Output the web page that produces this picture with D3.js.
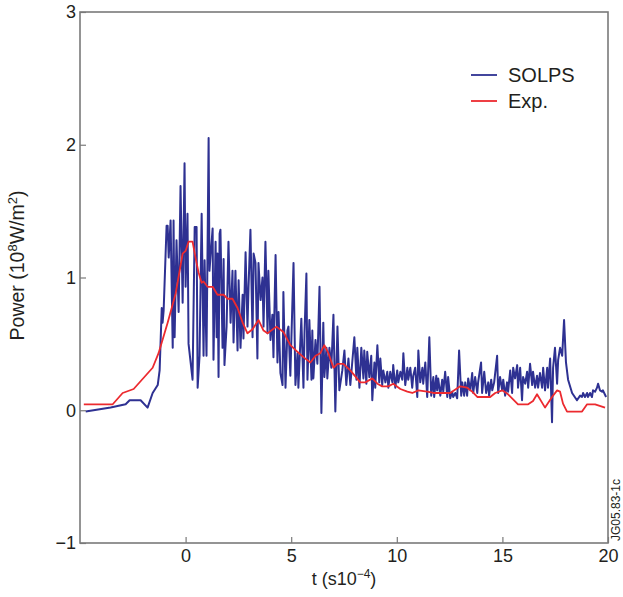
<!DOCTYPE html>
<html>
<head>
<meta charset="utf-8">
<script src="https://cdn.jsdelivr.net/npm/d3@7"></script>
<style>
  body { margin: 0; background: #fff; }
  text { font-family: "Liberation Sans", Arial, sans-serif; fill: #231f20; }
</style>
</head>
<body>
<div id="chart"></div>
<script>
// SOLPS simulation, [t (1e-4 s), power (1e8 W/m2)]
const solps = [
  [-4.73,-0.01],[-3.55,0.02],[-2.84,0.045],[-2.65,0.075],[-2.13,0.075],[-1.80,0.02],[-1.56,0.13],[-1.32,0.19],
  [-1.23,0.30],[-1.13,0.77],[-1.09,0.66],[-1.04,0.75],[-0.90,1.39],[-0.85,1.39],[-0.80,1.15],[-0.71,1.43],
  [-0.61,0.47],[-0.57,1.43],[-0.52,0.55],[-0.43,1.28],[-0.33,0.74],[-0.24,1.69],[-0.14,0.81],[-0.05,1.86],
  [0,0.93],[0.09,1.48],[0.14,0.50],[0.33,0.23],[0.43,1.38],[0.52,1.38],[0.57,0.17],[0.66,0.41],
  [0.76,1.48],[0.85,0.41],[0.90,1.13],[0.99,0.41],[1.09,2.05],[1.13,1.05],[1.28,1.37],[1.32,0.38],
  [1.42,1.27],[1.47,0.55],[1.51,1.18],[1.56,0.25],[1.61,1.33],[1.65,1.36],[1.75,0.47],[1.80,1.14],
  [1.84,0.34],[1.94,0.63],[2.03,1.27],[2.13,0.66],[2.22,1.05],[2.27,0.51],[2.36,1.05],[2.46,0.45],
  [2.51,0.98],[2.60,0.47],[2.70,0.87],[2.74,0.54],[2.84,1.19],[2.93,0.63],[2.98,0.93],[3.07,1.36],
  [3.17,0.55],[3.22,1.18],[3.31,1.11],[3.40,0.39],[3.45,1.11],[3.55,0.83],[3.64,1.00],[3.69,0.63],
  [3.78,1.27],[3.88,0.58],[3.92,1.05],[4.02,0.53],[4.11,0.72],[4.16,0.40],[4.26,1.17],[4.35,0.36],
  [4.40,0.74],[4.49,0.28],[4.59,0.19],[4.63,0.89],[4.73,0.17],[4.82,0.60],[4.87,0.63],[4.96,0.26],
  [5.11,1.11],[5.20,0.19],[5.30,0.43],[5.34,0.17],[5.48,0.69],[5.58,0.17],[5.63,0.58],[5.72,1.03],
  [5.77,0.23],[5.86,0.68],[5.96,0.23],[6.00,0.60],[6.05,0.24],[6.15,0.53],[6.24,0.35],[6.34,0.93],
  [6.43,-0.02],[6.52,0.66],[6.57,0.25],[6.67,0.47],[6.71,0.24],[6.81,0.47],[6.90,0.32],[7.00,0.72],
  [7.09,-0.01],[7.19,0.63],[7.28,0.15],[7.42,0.30],[7.52,0.45],[7.61,0.19],[7.71,0.39],[7.80,0.19],
  [7.99,0.55],[8.09,0.23],[8.13,0.47],[8.23,0.17],[8.32,0.47],[8.42,0.24],[8.46,0.45],[8.56,0.20],
  [8.60,0.44],[8.70,0.25],[8.79,0.41],[8.84,0.075],[8.94,0.36],[8.98,0.17],[9.08,0.49],[9.17,0.21],
  [9.22,0.39],[9.31,0.19],[9.36,0.30],[9.46,0.21],[9.55,0.29],[9.60,0.17],[9.69,0.29],[9.79,0.21],
  [9.83,0.34],[9.93,0.17],[10.02,0.30],[10.07,0.21],[10.17,0.29],[10.26,0.23],[10.31,0.43],[10.40,0.19],
  [10.50,0.32],[10.54,0.23],[10.64,0.32],[10.73,0.17],[10.78,0.26],[10.87,0.32],[10.97,0.10],[11.02,0.45],
  [11.11,0.21],[11.21,0.32],[11.25,0.20],[11.35,0.36],[11.44,0.10],[11.54,0.55],[11.63,0.11],[11.73,0.25],
  [11.77,0.10],[11.87,0.26],[11.91,0.15],[11.96,0.24],[12.06,0.11],[12.15,0.23],[12.20,0.14],[12.29,0.29],
  [12.39,0.10],[12.43,0.25],[12.53,0.09],[12.62,0.14],[12.67,0.10],[12.77,0.13],[12.86,0.09],[12.95,0.45],
  [13.05,0.11],[13.10,0.21],[13.19,0.11],[13.24,0.21],[13.33,0.11],[13.38,0.24],[13.48,0.15],[13.57,0.28],
  [13.62,0.13],[13.71,0.25],[13.81,0.13],[13.85,0.21],[13.99,0.36],[14.04,0.13],[14.14,0.29],[14.23,0.13],
  [14.33,0.21],[14.37,0.11],[14.47,0.23],[14.52,0.15],[14.61,0.21],[14.75,0.41],[14.80,0.13],[14.89,0.25],
  [14.99,0.15],[15.04,0.23],[15.13,0.11],[15.22,0.21],[15.27,0.14],[15.37,0.30],[15.46,0.13],[15.51,0.32],
  [15.60,0.24],[15.70,0.34],[15.74,0.17],[15.84,0.32],[15.93,0.075],[15.98,0.25],[16.08,0.20],[16.17,0.29],
  [16.22,0.17],[16.31,0.35],[16.41,0.19],[16.45,0.29],[16.55,0.17],[16.64,0.26],[16.69,0.17],[16.78,0.28],
  [16.88,0.17],[16.93,0.32],[17.02,0.15],[17.12,0.32],[17.16,0.17],[17.26,0.39],[17.35,-0.09],[17.40,0.32],
  [17.49,0.47],[17.59,0.20],[17.64,0.38],[17.73,0.47],[17.83,0.41],[17.87,0.53],[17.92,0.68],[18.01,0.36],
  [18.11,0.23],[18.30,0.13],[18.53,0.075],[18.68,0.11],[18.77,0.10],[18.82,0.13],[18.91,0.10],[19.01,0.13],
  [19.05,0.10],[19.15,0.13],[19.24,0.10],[19.29,0.15],[19.39,0.14],[19.48,0.17],[19.53,0.20],[19.62,0.15],
  [19.72,0.14],[19.76,0.15],[19.91,0.10]
];

// experiment
const expData = [
  [-4.82,0.045],[-3.45,0.045],[-2.98,0.13],[-2.46,0.16],[-1.56,0.32],[-1.28,0.43],[-0.85,0.66],[-0.47,0.88],
  [-0.14,1.18],[0,1.20],[0.14,1.27],[0.33,1.27],[0.47,1.15],[0.61,1.04],[0.76,0.96],[0.85,0.97],
  [1.04,0.93],[1.28,0.93],[1.51,0.87],[1.80,0.87],[1.99,0.84],[2.22,0.84],[2.46,0.77],[2.70,0.66],
  [2.93,0.58],[3.17,0.61],[3.45,0.68],[3.69,0.60],[3.88,0.58],[4.30,0.63],[4.63,0.59],[4.96,0.49],
  [5.30,0.44],[5.58,0.40],[5.91,0.36],[6.15,0.41],[6.38,0.43],[6.57,0.49],[6.76,0.43],[7.00,0.32],
  [7.19,0.35],[7.47,0.35],[7.80,0.30],[8.27,0.21],[8.51,0.21],[8.84,0.24],[9.08,0.20],[9.31,0.18],
  [9.60,0.18],[9.83,0.20],[10.17,0.16],[10.50,0.14],[10.73,0.13],[11.02,0.15],[11.44,0.14],[11.73,0.13],
  [12.53,0.13],[13.00,0.18],[13.33,0.17],[13.57,0.14],[13.81,0.10],[14.42,0.10],[14.66,0.13],[14.99,0.15],
  [15.27,0.12],[15.74,0.045],[16.22,0.045],[16.45,0.07],[16.64,0.12],[17.02,0.02],[17.35,0.10],[17.59,0.15],
  [17.73,0.14],[17.87,0.05],[18.06,-0.01],[18.77,-0.01],[19.01,0.045],[19.39,0.045],[19.86,0.02]
];

const xTicks = [0, 5, 10, 15, 20];
const yTicks = [-1, 0, 1, 2, 3];
const legendItems = [
  { name: 'SOLPS', color: '#2e3192' },
  { name: 'Exp.', color: '#ec2a2f' }
];

const W = 623, H = 597;
const margin = { top: 12, right: 15, bottom: 54, left: 80 };
const width = W - margin.left - margin.right;
const height = H - margin.top - margin.bottom;

const svg = d3.select('#chart')
  .append('svg')
  .attr('width', W)
  .attr('height', H);

const g = svg.append('g')
  .attr('transform', `translate(${margin.left},${margin.top})`);

const xScale = d3.scaleLinear().domain([-5, 20]).range([0, width]);
const yScale = d3.scaleLinear().domain([-1, 3]).range([height, 0]);

const line = d3.line()
  .x(d => xScale(d[0]))
  .y(d => yScale(d[1]));

g.append('path')
  .datum(solps)
  .attr('fill', 'none')
  .attr('stroke', legendItems[0].color)
  .attr('stroke-width', 2)
  .attr('stroke-linejoin', 'round')
  .attr('d', line);

g.append('path')
  .datum(expData)
  .attr('fill', 'none')
  .attr('stroke', legendItems[1].color)
  .attr('stroke-width', 1.8)
  .attr('stroke-linejoin', 'round')
  .attr('d', line);

// axes, ticks point inward
const xAxis = d3.axisBottom(xScale).tickValues(xTicks).tickSize(-6).tickPadding(6).tickFormat(d3.format('d'));
const yAxis = d3.axisLeft(yScale).tickValues(yTicks).tickSize(-6).tickPadding(4).tickFormat(d3.format('d'));

const gx = g.append('g').attr('transform', `translate(0,${height})`).call(xAxis);
const gy = g.append('g').call(yAxis);

[gx, gy].forEach(a => {
  a.select('.domain').remove();
  a.selectAll('line').attr('stroke', '#7a7a7a').attr('stroke-width', 1.2);
  a.selectAll('text').style('font-size', '18px').attr('fill', '#231f20');
});

// frame
g.append('rect')
  .attr('width', width)
  .attr('height', height)
  .attr('fill', 'none')
  .attr('stroke', '#7a7a7a')
  .attr('stroke-width', 1.6);

// axis titles
const xt = svg.append('text')
  .attr('x', margin.left + width / 2)
  .attr('y', 585)
  .attr('text-anchor', 'middle')
  .style('font-size', '18px');
xt.append('tspan').text('t (s10');
xt.append('tspan').attr('dy', -7).style('font-size', '12px').text('\u22124');
xt.append('tspan').attr('dy', 7).text(')');

const yt = svg.append('text')
  .attr('transform', `translate(24,${margin.top + height / 2 - 12}) rotate(-90)`)
  .attr('text-anchor', 'middle')
  .style('font-size', '19.5px');
yt.append('tspan').text('Power (10');
yt.append('tspan').attr('dy', -7).style('font-size', '13px').text('8');
yt.append('tspan').attr('dy', 7).text('W/m');
yt.append('tspan').attr('dy', -7).style('font-size', '13px').text('2');
yt.append('tspan').attr('dy', 7).text(')');

// legend
const legend = svg.append('g').attr('transform', 'translate(471,75)');
legendItems.forEach((d, i) => {
  const row = legend.append('g').attr('transform', `translate(0,${i * 26})`);
  row.append('line')
    .attr('x1', 0).attr('x2', 26)
    .attr('stroke', d.color)
    .attr('stroke-width', 1.8);
  row.append('text')
    .attr('x', 37)
    .attr('y', 7)
    .style('font-size', '20px')
    .text(d.name);
});

// figure id
svg.append('text')
  .attr('transform', 'translate(620,541) rotate(-90)')
  .style('font-size', '12px')
  .text('JG05.83-1c');
</script>
</body>
</html>
